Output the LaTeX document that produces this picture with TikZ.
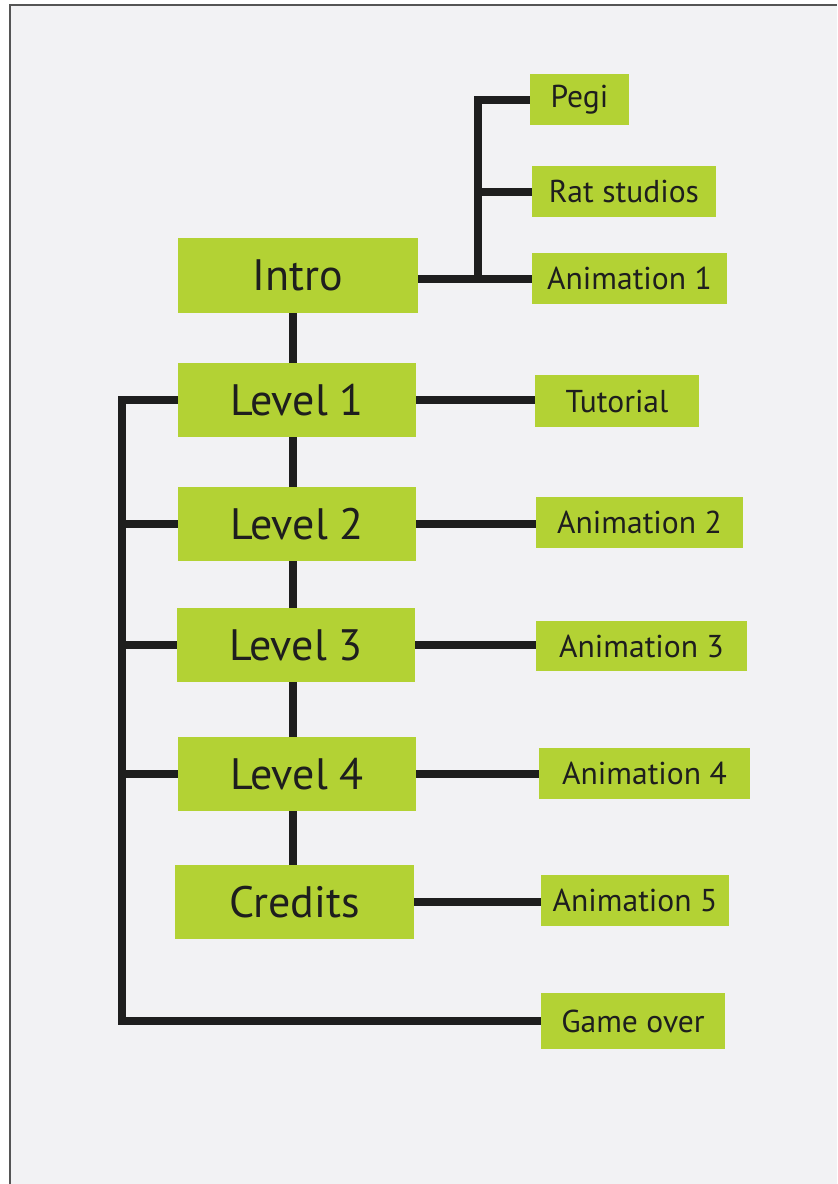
\documentclass[tikz,border=0pt]{standalone}
\usepackage{fontspec}
\setmainfont{PT Sans}
\definecolor{boxgreen}{RGB}{179,210,52}
\definecolor{pagebg}{RGB}{242,242,244}
\definecolor{framegray}{RGB}{85,85,85}
\definecolor{ink}{RGB}{30,30,30}
\begin{document}
\begin{tikzpicture}[x=0.5pt,y=-0.5pt,
  bigbox/.style={fill=boxgreen,draw=none,text=ink,inner sep=0pt,font=\fontsize{22}{24}\selectfont},
  smallbox/.style={fill=boxgreen,draw=none,text=ink,inner sep=0pt,font=\fontsize{15.8}{17}\selectfont},
  link/.style={line width=4pt,draw=ink,line join=miter,line cap=butt}]
\useasboundingbox (0,0) rectangle (837,1184);
\fill[white] (0,0) rectangle (837,1184);
\fill[pagebg] (9.5,4.5) rectangle (837,1184);
\draw[framegray,line width=1pt] (9.5,1184) -- (9.5,4.5) -- (837,4.5);
% main column
\node[bigbox,minimum width=120pt,minimum height=37.5pt] (intro) at (298,275.5) {Intro};
\node[bigbox,minimum width=119pt,minimum height=37pt] (level1) at (297,400) {Level 1};
\node[bigbox,minimum width=119pt,minimum height=37pt] (level2) at (297,524) {Level 2};
\node[bigbox,minimum width=119pt,minimum height=37pt] (level3) at (296,645) {Level 3};
\node[bigbox,minimum width=119pt,minimum height=37pt] (level4) at (297,774) {Level 4};
\node[bigbox,minimum width=119.5pt,minimum height=37pt] (credits) at (294.5,902) {Credits};
% right column
\node[smallbox,minimum width=49.5pt,minimum height=25.5pt] (pegi) at (579.5,99.5) {Pegi};
\node[smallbox,minimum width=92pt,minimum height=25.5pt] (rat) at (624,191.5) {Rat studios};
\node[smallbox,minimum width=97.5pt,minimum height=25.5pt] (anim1) at (629.5,278.5) {Animation 1};
\node[smallbox,minimum width=82pt,minimum height=26pt] (tutorial) at (617,401) {Tutorial};
\node[smallbox,minimum width=103.5pt,minimum height=25.5pt] (anim2) at (639.5,522.5) {Animation 2};
\node[smallbox,minimum width=105.5pt,minimum height=25pt] (anim3) at (641.5,646) {Animation 3};
\node[smallbox,minimum width=105.5pt,minimum height=25.5pt] (anim4) at (644.5,773.5) {Animation 4};
\node[smallbox,minimum width=94pt,minimum height=25.5pt] (anim5) at (635,900.5) {Animation 5};
\node[smallbox,minimum width=92pt,minimum height=28pt] (gameover) at (633,1021) {Game over};
% helper coordinates
\coordinate (fork) at (477.5,279);
\coordinate (spine) at (293,0);
\coordinate (bus) at (122,0);
% intro fork
\draw[link] (intro.east |- fork) -- (fork -| anim1.west);
\draw[link] (pegi.west) -- (fork |- pegi.west) -- (fork);
\draw[link] (fork |- rat.west) -- (rat.west);
% spine
\draw[link] (spine |- intro.south) -- (spine |- level1.north);
\draw[link] (spine |- level1.south) -- (spine |- level2.north);
\draw[link] (spine |- level2.south) -- (spine |- level3.north);
\draw[link] (spine |- level3.south) -- (spine |- level4.north);
\draw[link] (spine |- level4.south) -- (spine |- credits.north);
% right links
\draw[link] (level1.east) -- (level1.east -| tutorial.west);
\draw[link] (level2.east) -- (level2.east -| anim2.west);
\draw[link] (level3.east) -- (level3.east -| anim3.west);
\draw[link] (level4.east) -- (level4.east -| anim4.west);
\draw[link] (credits.east) -- (credits.east -| anim5.west);
% left bus
\draw[link] (level1.west) -- (bus |- level1.west) -- (bus |- gameover.west) -- (gameover.west);
\draw[link] (bus |- level2.west) -- (level2.west);
\draw[link] (bus |- level3.west) -- (level3.west);
\draw[link] (bus |- level4.west) -- (level4.west);
\end{tikzpicture}
\end{document}
